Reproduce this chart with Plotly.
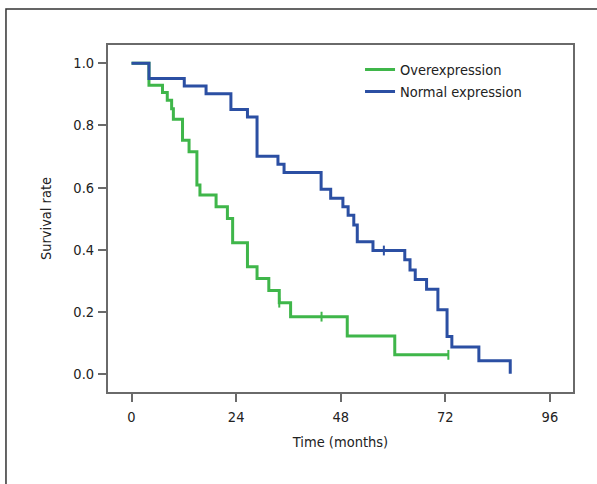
import plotly.graph_objects as go

# Overexpression group (Kaplan-Meier step data)
over_time = [0, 4.0, 7.1, 8.2, 9.2, 9.6, 11.7, 13.2, 15.0, 15.7, 19.4, 22.0, 23.2, 26.6, 28.8, 31.5, 33.9, 36.5, 49.5, 60.4, 72.7]
over_surv = [1.0, 0.929, 0.906, 0.881, 0.854, 0.82, 0.752, 0.715, 0.608, 0.576, 0.538, 0.50, 0.422, 0.345, 0.307, 0.268, 0.229, 0.184, 0.122, 0.061, 0.061]
over_cens_time = [33.9, 43.6, 72.7]
over_cens_surv = [0.229, 0.184, 0.061]

# Normal expression group
norm_time = [0, 4.0, 12.1, 17.1, 22.8, 26.6, 28.8, 33.6, 35.0, 43.5, 45.7, 48.5, 49.7, 51.0, 51.8, 55.4, 62.7, 63.9, 65.1, 67.7, 70.3, 72.4, 73.5, 79.7, 86.9]
norm_surv = [1.0, 0.951, 0.927, 0.902, 0.851, 0.827, 0.701, 0.675, 0.648, 0.594, 0.565, 0.538, 0.511, 0.479, 0.425, 0.397, 0.367, 0.334, 0.304, 0.272, 0.206, 0.12, 0.086, 0.042, 0.0]
norm_cens_time = [57.9]
norm_cens_surv = [0.397]

x_ticks = [0, 24, 48, 72, 96]
y_ticks = [0.0, 0.2, 0.4, 0.6, 0.8, 1.0]
y_tick_labels = ["0.0", "0.2", "0.4", "0.6", "0.8", "1.0"]

GREEN = "#3fb64a"
BLUE = "#2b4fa3"
AXIS = "#6a6a6a"
FONT = "Liberation Sans Narrow, DejaVu Sans Condensed, Roboto, sans-serif"

fig = go.Figure()
fig.add_trace(go.Scatter(x=over_time, y=over_surv, mode="lines", line=dict(shape="hv", color=GREEN, width=3),
                         name="Overexpression"))
fig.add_trace(go.Scatter(x=norm_time, y=norm_surv, mode="lines", line=dict(shape="hv", color=BLUE, width=3),
                         name="Normal expression"))
fig.add_trace(go.Scatter(x=over_cens_time, y=over_cens_surv, mode="markers", showlegend=False,
                         marker=dict(symbol="line-ns", size=7, line=dict(color=GREEN, width=2))))
fig.add_trace(go.Scatter(x=norm_cens_time, y=norm_cens_surv, mode="markers", showlegend=False,
                         marker=dict(symbol="line-ns", size=7, line=dict(color=BLUE, width=2))))

axis_common = dict(showline=True, linecolor=AXIS, linewidth=2, mirror=True, ticks="outside",
                   ticklen=8, tickwidth=2, tickcolor=AXIS, showgrid=False, zeroline=False,
                   automargin=False,
                   tickfont=dict(family=FONT, size=14.5, color="#222222"))
fig.update_xaxes(range=[-5.4, 101.3], tickvals=x_ticks, ticklabelstandoff=3,
                 title=dict(text="Time (months)", font=dict(family=FONT, size=14.5, color="#222222"), standoff=12),
                 **axis_common)
fig.update_yaxes(range=[-0.0587, 1.059], tickvals=y_ticks, ticktext=y_tick_labels, ticklabelstandoff=1,
                 title=dict(text="Survival rate", font=dict(family=FONT, size=14.5, color="#222222"), standoff=18),
                 **axis_common)

# outer figure frame (only top and left edges fall inside the image)
fig.add_shape(type="rect", xref="paper", yref="paper", x0=-0.2194, x1=1.3, y0=-0.6, y1=1.104,
              line=dict(color="#333333", width=1.5), layer="below")

fig.update_layout(
    width=597, height=484,
    margin=dict(l=108, r=24, t=45, b=92),
    paper_bgcolor="white", plot_bgcolor="white",
    showlegend=True,
    hovermode=False,
    legend=dict(x=0.542, y=0.975, xanchor="left", yanchor="top", bgcolor="rgba(0,0,0,0)",
                font=dict(family=FONT, size=14.5, color="#222222"), tracegroupgap=0, itemwidth=30),
)

fig.write_html("out.html", config={"displayModeBar": False, "staticPlot": True},
               post_script="document.body.style.margin='0';document.body.style.padding='0';")
